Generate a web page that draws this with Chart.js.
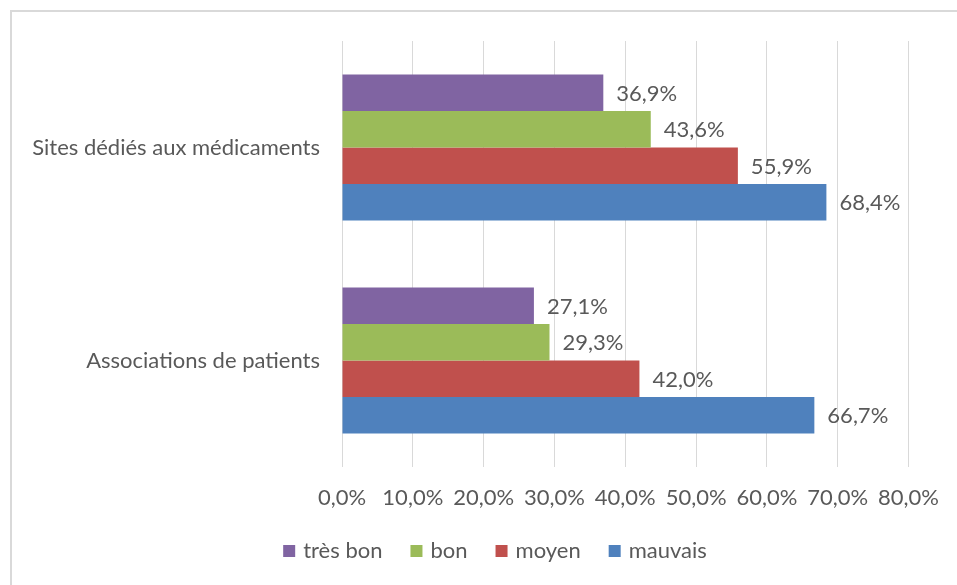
<!DOCTYPE html>
<html lang="fr">
<head>
    <meta charset="UTF-8">
    <title>Sources d'information</title>
    <script src="https://cdn.jsdelivr.net/npm/chart.js"></script>
    <style>
        body {
            margin: 0;
            padding: 0;
            background: #fff;
        }
        .frame {
            position: absolute;
            left: 10px;
            top: 10px;
            width: 947px;
            height: 575px;
            border-top: 2px solid #d9d9d9;
            border-left: 2px solid #d9d9d9;
        }
        #chart {
            position: absolute;
            left: 0;
            top: 0;
        }
    </style>
</head>
<body>
    <div class="frame"></div>
    <canvas id="chart" width="957" height="585"></canvas>

    <script>
        const categories = ['Sites dédiés aux médicaments', 'Associations de patients'];
        const seriesNames = ['très bon', 'bon', 'moyen', 'mauvais'];
        const seriesColors = ['#8064a2', '#9bbb59', '#c0504d', '#4f81bd'];
        const tresBon = [36.9, 27.1];
        const bon = [43.6, 29.3];
        const moyen = [55.9, 42.0];
        const mauvais = [68.4, 66.7];
        const xTicks = [0, 10, 20, 30, 40, 50, 60, 70, 80];

        const FONT = 'Lato, "Open Sans", sans-serif';
        const FSIZE = 22;
        const TEXT = '#595959';

        function fmt(v) {
            return v.toFixed(1).replace('.', ',') + '%';
        }

        // étiquettes de valeur au bout des barres
        const valueLabels = {
            id: 'valueLabels',
            afterDatasetsDraw(chart) {
                const ctx = chart.ctx;
                ctx.save();
                ctx.font = FSIZE + 'px ' + FONT;
                ctx.fillStyle = TEXT;
                ctx.textAlign = 'left';
                ctx.textBaseline = 'middle';
                chart.data.datasets.forEach((ds, i) => {
                    chart.getDatasetMeta(i).data.forEach((bar, j) => {
                        ctx.fillText(fmt(ds.data[j]), bar.x + 13, bar.y + 1);
                    });
                });
                ctx.restore();
            }
        };

        // légende en bas, façon Excel
        const bottomLegend = {
            id: 'bottomLegend',
            afterDraw(chart) {
                const ctx = chart.ctx;
                ctx.save();
                ctx.font = FSIZE + 'px ' + FONT;
                ctx.textBaseline = 'middle';
                const box = 12, gapText = 8, gapItem = 28;
                const widths = chart.data.datasets.map(ds => box + gapText + ctx.measureText(ds.label).width);
                const total = widths.reduce((a, b) => a + b, 0) + gapItem * (widths.length - 1);
                let x = 495 - total / 2;
                const y = 551;
                chart.data.datasets.forEach((ds, i) => {
                    ctx.fillStyle = ds.backgroundColor;
                    ctx.fillRect(x, y - box / 2, box, box);
                    ctx.fillStyle = TEXT;
                    ctx.fillText(ds.label, x + box + gapText, y);
                    x += widths[i] + gapItem;
                });
                ctx.restore();
            }
        };

        const seriesData = [tresBon, bon, moyen, mauvais];

        new Chart(document.getElementById('chart'), {
            type: 'bar',
            data: {
                labels: categories,
                datasets: seriesNames.map((name, i) => ({
                    label: name,
                    data: seriesData[i],
                    backgroundColor: seriesColors[i],
                    borderWidth: 0,
                    categoryPercentage: 0.685,
                    barPercentage: 1.0
                }))
            },
            options: {
                indexAxis: 'y',
                responsive: false,
                animation: false,
                layout: {
                    padding: { top: 41, right: 48, left: 0, bottom: 0 }
                },
                plugins: {
                    legend: { display: false },
                    tooltip: { enabled: false }
                },
                scales: {
                    x: {
                        min: 0,
                        max: 80,
                        afterBuildTicks(scale) {
                            scale.ticks = xTicks.map(v => ({ value: v }));
                        },
                        afterFit(scale) {
                            scale.height = 118;
                        },
                        grid: {
                            color: '#d9d9d9',
                            lineWidth: 1,
                            drawTicks: false
                        },
                        border: { display: false },
                        ticks: {
                            padding: 18,
                            color: TEXT,
                            font: { family: FONT, size: FSIZE },
                            callback: v => fmt(v)
                        }
                    },
                    y: {
                        afterFit(scale) {
                            scale.width = 342;
                        },
                        grid: { display: false, drawTicks: false },
                        border: { display: false },
                        ticks: {
                            padding: 22,
                            color: TEXT,
                            font: { family: FONT, size: FSIZE }
                        }
                    }
                }
            },
            plugins: [valueLabels, bottomLegend]
        });
    </script>
</body>
</html>
